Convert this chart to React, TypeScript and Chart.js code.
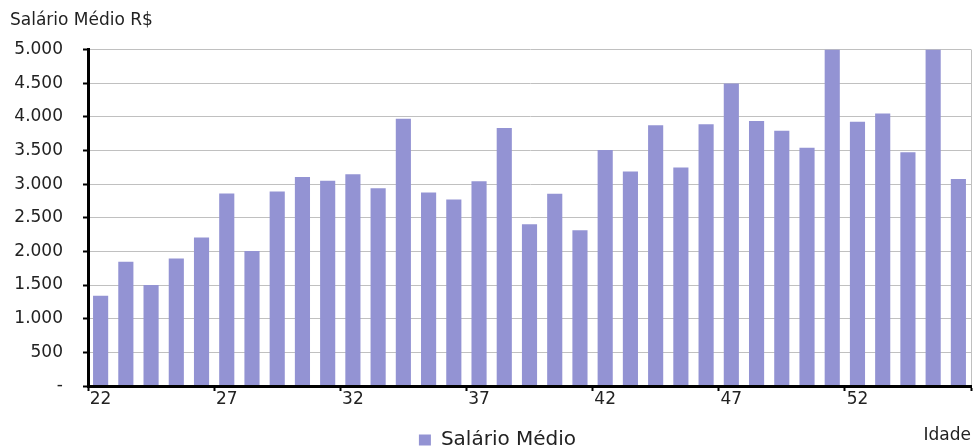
import { useEffect, useRef } from 'react';
import { Chart, registerables } from 'chart.js';

Chart.register(...registerables);

const ages = [
  '22', '23', '24', '25', '26', '27', '28', '29', '30', '31', '32', '33',
  '34', '35', '36', '37', '38', '39', '40', '41', '42', '43', '44', '45',
  '46', '47', '48', '49', '50', '51', '52', '53', '54', '55', '56',
];

const salaries = [
  1342, 1847, 1500, 1896, 2208, 2861, 2005, 2891, 3104, 3050, 3148, 2940,
  3972, 2875, 2771, 3044, 3833, 2403, 2855, 2314, 3505, 3188, 3876, 3248,
  3891, 4495, 3936, 3792, 3540, 5000, 3926, 4050, 3475, 5000, 3074,
];

const seriesLabel = 'Salário Médio';
const yTitle = 'Salário Médio R$';
const xTitle = 'Idade';
const yMin = 0;
const yMax = 5000;
const yStep = 500;
const xLabelEvery = 5;

const FONT = "'DejaVu Sans', sans-serif";
const TEXT = '#222222';
const BAR = '#9393d3';
const GRID = '#c0c0c0';
const LEGEND_DX = 7;

const fmt = (v: number) =>
  v === 0 ? '-' : String(Math.round(v)).replace(/\B(?=(\d{3})+(?!\d))/g, '.');

const legendOffset = {
  id: 'legendOffset',
  afterLayout(chart: any) {
    const lg = chart.legend;
    if (lg) {
      lg.left += LEGEND_DX;
      lg.right += LEGEND_DX;
    }
  },
};

export default function App() {
  const ref = useRef<HTMLCanvasElement | null>(null);

  useEffect(() => {
    if (!ref.current) return;
    const chart = new Chart(ref.current, {
      type: 'bar',
      data: {
        labels: ages,
        datasets: [
          {
            label: seriesLabel,
            data: salaries,
            backgroundColor: BAR,
            borderWidth: 0,
            barPercentage: 0.6,
            categoryPercentage: 1.0,
          },
        ],
      },
      plugins: [legendOffset],
      options: {
        animation: false,
        responsive: true,
        maintainAspectRatio: false,
        layout: { padding: { left: 10, right: 3, top: 0, bottom: -12 } },
        plugins: {
          title: {
            display: true,
            text: yTitle,
            align: 'start',
            color: TEXT,
            font: { family: FONT, size: 17, weight: 'normal', lineHeight: 1 },
            padding: { top: 12.5, bottom: 20 },
          },
          legend: {
            display: true,
            position: 'bottom',
            labels: {
              boxWidth: 12,
              boxHeight: 11,
              padding: 0,
              color: TEXT,
              font: { family: FONT, size: 20, lineHeight: 1 },
            },
          },
          tooltip: { enabled: false },
        },
        scales: {
          x: {
            offset: true,
            grid: {
              display: true,
              offset: true,
              drawOnChartArea: true,
              drawTicks: true,
              tickLength: 5,
              lineWidth: 1,
              tickWidth: 2,
              color: (c: any) => (c.index === undefined ? GRID : 'rgba(0,0,0,0)'),
              tickColor: (c: any) =>
                c.index === undefined || c.index % xLabelEvery === 0 ? '#000' : 'rgba(0,0,0,0)',
            },
            border: { display: true, color: '#000', width: 3, z: 1 },
            ticks: {
              autoSkip: false,
              maxRotation: 0,
              minRotation: 0,
              padding: 0,
              color: TEXT,
              font: { family: FONT, size: 17, lineHeight: 1 },
              callback: (_v: any, i: number) => (i % xLabelEvery === 0 ? ages[i] : ''),
            },
            title: {
              display: true,
              text: xTitle,
              align: 'end',
              color: TEXT,
              font: { family: FONT, size: 17, lineHeight: 1 },
              padding: { top: 0, bottom: -14.5 },
            },
            afterFit: (s: any) => {
              s.height = 44;
            },
          },
          y: {
            min: yMin,
            max: yMax,
            ticks: {
              stepSize: yStep,
              padding: 20,
              color: TEXT,
              font: { family: FONT, size: 17, lineHeight: 1 },
              callback: (v: any) => fmt(Number(v)),
            },
            grid: {
              color: GRID,
              lineWidth: 1,
              tickColor: '#000',
              tickLength: 5,
              tickWidth: 2,
            },
            border: { display: true, color: '#000', width: 3, z: 1 },
            afterFit: (s: any) => {
              s.width = 78;
            },
          },
        },
      } as any,
    });
    return () => chart.destroy();
  }, []);

  return (
    <div style={{ position: 'fixed', left: 0, top: 0, width: 974, height: 448, background: '#fff' }}>
      <canvas ref={ref} />
    </div>
  );
}
